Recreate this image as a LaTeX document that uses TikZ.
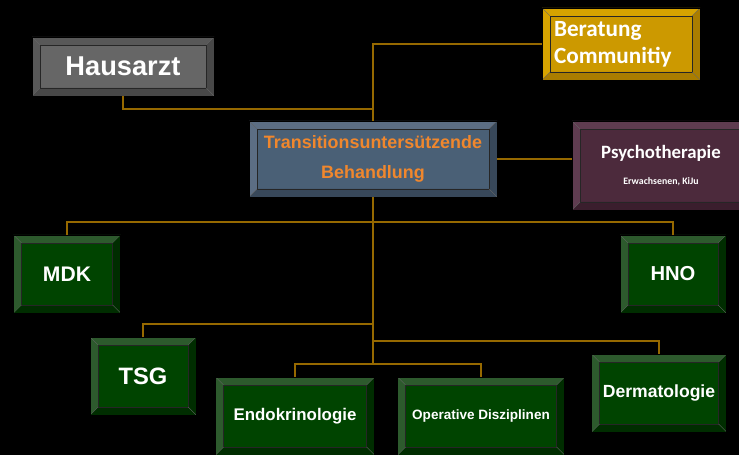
\documentclass[tikz,border=0pt]{standalone}
\usepackage{fontspec}
\setmainfont{Liberation Sans}
\newfontfamily\calib{Carlito}
\usetikzlibrary{calc,positioning}

\definecolor{linegold}{RGB}{150,105,0}
\definecolor{grmain}{RGB}{0,68,0}
\definecolor{grlight}{RGB}{45,90,45}
\definecolor{grdark}{RGB}{0,45,0}
\definecolor{gymain}{RGB}{102,102,102}
\definecolor{gylight}{RGB}{88,88,88}
\definecolor{gydark}{RGB}{72,72,72}
\definecolor{blmain}{RGB}{74,96,118}
\definecolor{bllight}{RGB}{92,110,132}
\definecolor{bldark}{RGB}{56,72,90}
\definecolor{rdmain}{RGB}{76,42,60}
\definecolor{rdlight}{RGB}{95,60,80}
\definecolor{rddark}{RGB}{58,30,45}
\definecolor{ylmain}{RGB}{204,153,0}
\definecolor{yllight}{RGB}{214,163,0}
\definecolor{yldark}{RGB}{170,125,0}
\definecolor{orangetxt}{RGB}{240,135,45}

\begin{document}
\begin{tikzpicture}[
    x=0.02cm, y=-0.02cm,
    font=\bfseries,
    % Kasten mit abgeschraegtem Rand
    bevel/.style n args={3}{rectangle, fill=#1, draw=black, line width=0.4pt,
      inner sep=0pt, align=center, text=white,
      path picture={
        \coordinate (nw) at (path picture bounding box.north west);
        \coordinate (ne) at (path picture bounding box.north east);
        \coordinate (sw) at (path picture bounding box.south west);
        \coordinate (se) at (path picture bounding box.south east);
        \fill[#2] (nw) -- (ne) -- ($(ne)+(-0.16cm,-0.16cm)$) -- ($(nw)+(0.16cm,-0.16cm)$) -- cycle;
        \fill[#2] (nw) -- ($(nw)+(0.16cm,-0.16cm)$) -- ($(sw)+(0.16cm,0.16cm)$) -- (sw) -- cycle;
        \fill[#3] (sw) -- (se) -- ($(se)+(-0.16cm,0.16cm)$) -- ($(sw)+(0.16cm,0.16cm)$) -- cycle;
        \fill[#3] (ne) -- (se) -- ($(se)+(-0.16cm,0.16cm)$) -- ($(ne)+(-0.16cm,-0.16cm)$) -- cycle;
        \draw[black!85, line width=0.5pt] ($(nw)+(0.16cm,-0.16cm)$) rectangle ($(se)+(-0.16cm,0.16cm)$);
        \draw[black!60, line width=0.2pt] (nw) -- ++(0.16cm,-0.16cm) (ne) -- ++(-0.16cm,-0.16cm)
          (sw) -- ++(0.16cm,0.16cm) (se) -- ++(-0.16cm,0.16cm);
      }},
    greenbox/.style={bevel={grmain}{grlight}{grdark}},
    graybox/.style={bevel={gymain}{gylight}{gydark}},
    bluebox/.style={bevel={blmain}{bllight}{bldark}},
    redbox/.style={bevel={rdmain}{rdlight}{rddark}},
    goldbox/.style={bevel={ylmain}{yllight}{yldark}},
    size/.style 2 args={minimum width=#1*0.02cm, minimum height=#2*0.02cm},
    link/.style={draw=linegold, line width=0.6pt}
  ]

  \fill[black] (0,0) rectangle (739,455);
  \useasboundingbox (0,0) rectangle (739,455);
  \clip (0,0) rectangle (739,455);

  % Kaesten oben
  \node (haus) [graybox, size={182}{59}, font=\fontsize{15.5}{18}\bfseries] at (123,66.5) {Hausarzt};
  \node (trans) [bluebox, size={248}{76}, text=orangetxt, font=\fontsize{10.2}{17}\selectfont\bfseries]
    at (373,159) {Transitionsuntersützende\\Behandlung};
  \node (berat) [goldbox, size={158}{72}, align=left, text width=2.68cm,
    font=\calib\fontsize{13.2}{15.5}\selectfont\bfseries] at (621,44) {Beratung\\Communitiy};
  \node (psych) [redbox, size={178}{89}, font=\calib\bfseries] at (661,165.5)
    {\fontsize{10.7}{13}\selectfont Psychotherapie\\[3pt]\fontsize{5.6}{6}\selectfont Erwachsenen, KiJu};

  % Fachbereiche
  \node (mdk) [greenbox, size={107}{78}, font=\fontsize{12}{14}\selectfont\bfseries] at (67,274) {MDK};
  \node (hno) [greenbox, size={106}{78}, font=\fontsize{11.5}{14}\selectfont\bfseries] at (673,274) {HNO};
  \node (tsg) [greenbox, size={106}{78}, font=\fontsize{13.5}{16}\selectfont\bfseries] at (143,376) {TSG};
  \node (derm) [greenbox, size={135}{78}, font=\fontsize{10}{12}\selectfont\bfseries] at (659,393) {Dermatologie};
  \node (endo) [greenbox, size={159}{78}, font=\fontsize{9.6}{12}\selectfont\bfseries] at (295,416) {Endokrinologie};
  \node (oper) [greenbox, size={167}{78}, font=\fontsize{7.7}{10}\selectfont\bfseries] at (481,416) {Operative Disziplinen};

  % Verzweigungspunkte
  \coordinate (jhaus) at (373,109);
  \coordinate (bus1) at (373,222);
  \coordinate (bus2) at (373,324);
  \coordinate (bus3) at (373,341);
  \coordinate (bus4) at (373,364);

  % Verbindungen
  \draw [link] (berat.west) -| (trans.north);
  \draw [link] (haus.south) |- (jhaus);
  \draw [link] (trans.east) -- (trans.east -| psych.west);
  \draw [link] (trans.south) -- (bus4);
  \draw [link] (mdk.north) |- (bus1) -| (hno.north);
  \draw [link] (tsg.north) |- (bus2);
  \draw [link] (bus3) -| (derm.north);
  \draw [link] (endo.north) |- (bus4) -| (oper.north);

\end{tikzpicture}
\end{document}
